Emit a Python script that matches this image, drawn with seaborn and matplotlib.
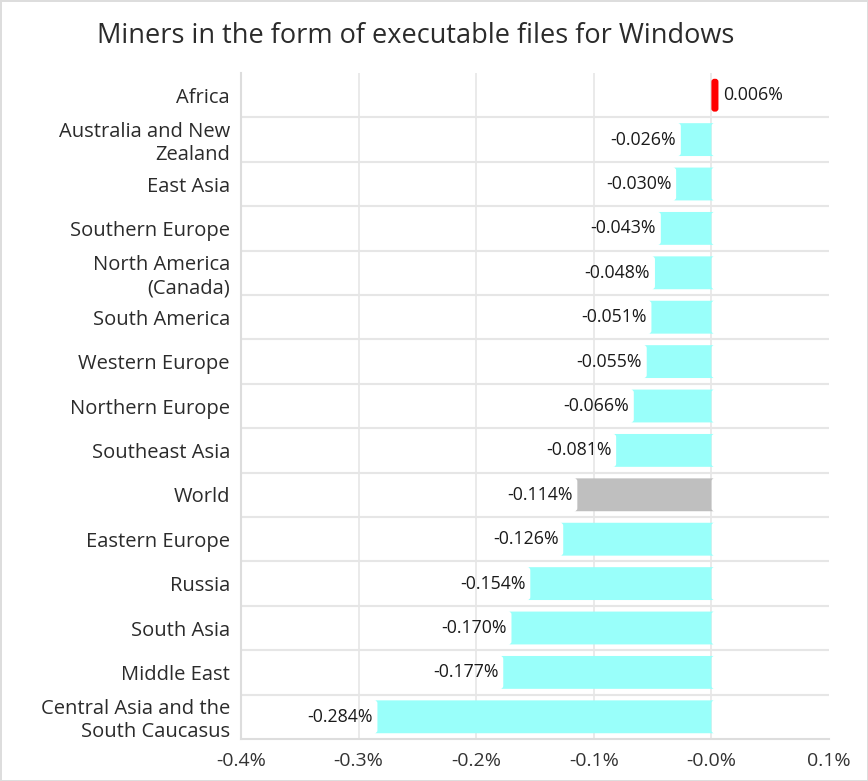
import matplotlib
matplotlib.use("Agg")
import matplotlib.pyplot as plt
from matplotlib.patches import FancyBboxPatch
import seaborn as sns
import pandas as pd

regions = [
    "Africa", "Australia and New\nZealand", "East Asia", "Southern Europe",
    "North America\n(Canada)", "South America", "Western Europe",
    "Northern Europe", "Southeast Asia", "World", "Eastern Europe", "Russia",
    "South Asia", "Middle East", "Central Asia and the\nSouth Caucasus",
]
values = [0.006, -0.026, -0.030, -0.043, -0.048, -0.051, -0.055, -0.066,
          -0.081, -0.114, -0.126, -0.154, -0.170, -0.177, -0.284]
x_ticks = [-0.4, -0.3, -0.2, -0.1, 0.0, 0.1]
x_tick_labels = ["-0.4%", "-0.3%", "-0.2%", "-0.1%", "-0.0%", "0.1%"]

sns.set_theme(style="white")
plt.rcParams['font.family'] = ['Open Sans', 'DejaVu Sans']

df = pd.DataFrame({'region': regions, 'value': values})
colors = {}
for r, v in zip(regions, values):
    if r == "World":
        colors[r] = "#bfbfbf"
    elif v > 0:
        colors[r] = "#ff0000"
    else:
        colors[r] = "#99fffa"

fig = plt.figure(figsize=(8.68, 7.81), dpi=100, edgecolor="#dddddd", linewidth=2)
ax = fig.add_axes([241 / 868, 1 - 739 / 781, (829 - 241) / 868, (739 - 73) / 781])

sns.barplot(data=df, x='value', y='region', hue='region', palette=colors,
            orient='h', width=0.74, legend=False, ax=ax, saturation=1)

ax.set_xlim(-0.4, 0.1)
ax.set_ylim(len(regions) - 0.5, -0.5)

# rounded bar corners
px_x = 0.5 / 588
px_y = 15 / 666
for p in list(ax.patches):
    x0, y0, w, h = p.get_x(), p.get_y(), p.get_width(), p.get_height()
    fc = p.get_facecolor()
    p.remove()
    rb = FancyBboxPatch((x0, y0), w, h,
                        boxstyle=f"round,pad=0,rounding_size={3 * px_x}",
                        mutation_aspect=px_y / px_x, facecolor=fc,
                        edgecolor='none', zorder=2)
    ax.add_patch(rb)

ax.set_xticks(x_ticks)
ax.set_xticklabels(x_tick_labels, fontsize=14, color="#333333")
ax.tick_params(axis='y', labelsize=14.5, labelcolor="#2b2b2b", length=7, color="#dddddd", width=1.5, pad=1)
ax.tick_params(axis='x', length=6, color="#dddddd", width=1.5, pad=3)
ax.set_xlabel("")
ax.set_ylabel("")

# grid
for t in x_ticks[1:-1]:
    ax.axvline(t, color="#e6e6e6", lw=1.2, zorder=0)
for i in range(len(regions) - 1):
    ax.axhline(i + 0.5, color="#e6e6e6", lw=1.5, zorder=0)

for s in ['top', 'right']:
    ax.spines[s].set_visible(False)
for s in ['left', 'bottom']:
    ax.spines[s].set_color("#dddddd")
    ax.spines[s].set_linewidth(1.5)

for i, v in enumerate(values):
    txt = f"{v:.3f}%"
    if v >= 0:
        ax.text(v + 0.004, i, txt, va='center', ha='left', fontsize=12.8, color="#1a1a1a")
    else:
        ax.text(v - 0.004, i, txt, va='center', ha='right', fontsize=12.8, color="#1a1a1a")

fig.text(416 / 868, 1 - 36 / 781, "Miners in the form of executable files for Windows",
         ha='center', va='center', fontsize=19.5, color="#2b2b2b")

fig.savefig("out.png", dpi=100, edgecolor=fig.get_edgecolor())
